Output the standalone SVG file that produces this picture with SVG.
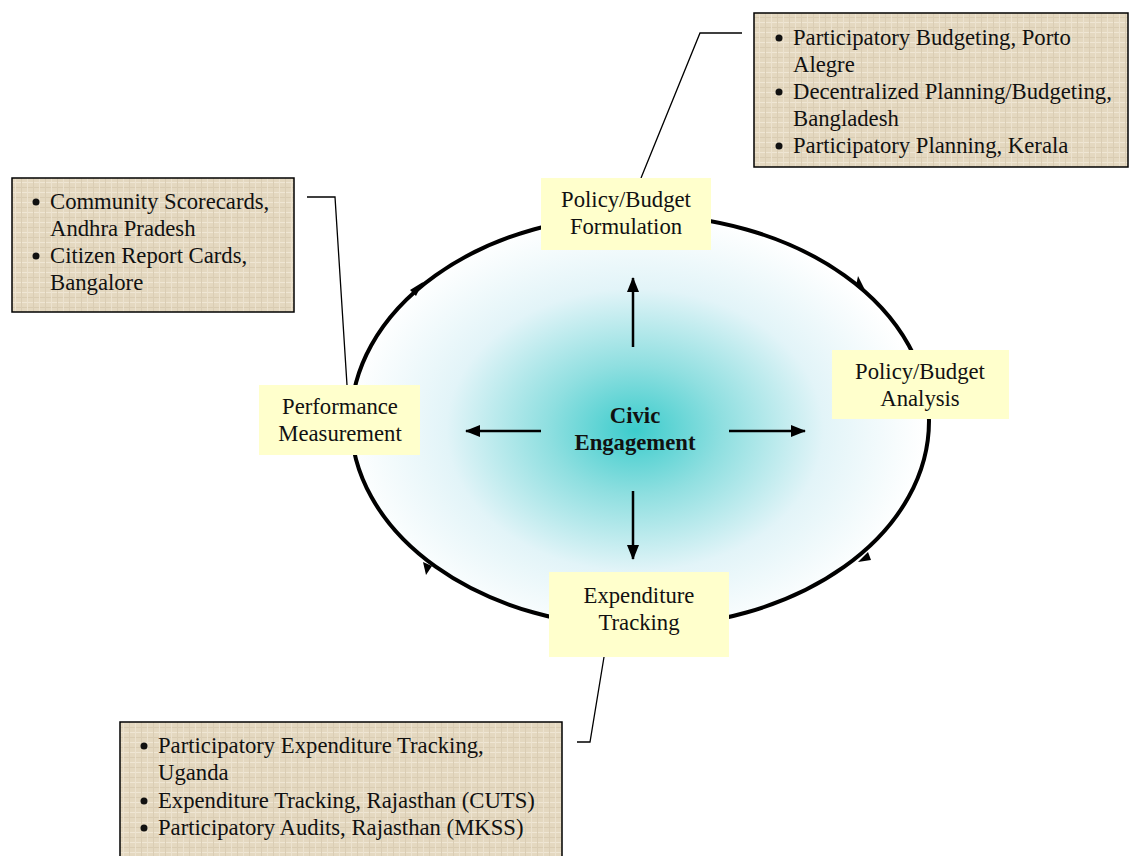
<svg xmlns="http://www.w3.org/2000/svg" width="1129" height="856" viewBox="0 0 1129 856">
  <defs>
    <radialGradient id="civicGlow" cx="635" cy="430" r="290" gradientUnits="userSpaceOnUse" gradientTransform="translate(635 430) scale(1 0.75) translate(-635 -430)">
      <stop offset="0" stop-color="#3ccccc"/>
      <stop offset="0.3" stop-color="#8fdfe0"/>
      <stop offset="0.65" stop-color="#e2f4f8"/>
      <stop offset="1" stop-color="#ffffff"/>
    </radialGradient>
    <!-- woven canvas texture for the example boxes -->
    <pattern id="canvas" width="12" height="10" patternUnits="userSpaceOnUse">
      <rect width="12" height="10" fill="#e4d8c0"/>
      <rect x="0" y="2" width="12" height="1" fill="#efe6d4"/>
      <rect x="0" y="7" width="12" height="1" fill="#d9ccb2"/>
      <rect x="3" y="0" width="1" height="10" fill="#ece2cf"/>
      <rect x="9" y="0" width="1" height="10" fill="#dacdb4"/>
    </pattern>
    <marker id="arrow" markerWidth="16" markerHeight="14" refX="14" refY="7" orient="auto" markerUnits="userSpaceOnUse">
      <path d="M0,1 L15,7 L0,13 Z" fill="#000"/>
    </marker>
  </defs>
  <style>
    .lbl { fill: #ffffcc; }
    .ex { fill: url(#canvas); stroke: #000; stroke-width: 1.5; }
    text { font-family: "Liberation Serif", "Times New Roman", serif; font-size: 22.7px; fill: #111; }
    .c { text-anchor: middle; }
    .b { font-weight: bold; }
    .dot { fill: #111; }
    .conn { stroke: #000; stroke-width: 2.5; fill: none; }
    .callout { stroke: #000; stroke-width: 1.3; fill: none; }
  </style>

  <!-- cycle ring with central glow -->
  <g id="cycle">
    <ellipse cx="640" cy="421" rx="289" ry="206" fill="url(#civicGlow)" stroke="#000" stroke-width="4"/>
    <!-- clockwise direction barbs -->
    <path d="M856,286 L858,276 L866,292 Z" fill="#000"/>
    <path d="M410,290 L423,282 L416,296 Z" fill="#000"/>
    <path d="M423,562 L426,575 L432,566 Z" fill="#000"/>
    <path d="M868,552 L858,562 L871,560 Z" fill="#000"/>
  </g>

  <!-- connectors: radial arrows and callout leaders -->
  <g id="connectors">
    <line class="conn" x1="633" y1="347" x2="633" y2="278" marker-end="url(#arrow)"/>
    <line class="conn" x1="541" y1="431" x2="466" y2="431" marker-end="url(#arrow)"/>
    <line class="conn" x1="729" y1="431" x2="805" y2="431" marker-end="url(#arrow)"/>
    <line class="conn" x1="633" y1="491" x2="633" y2="559" marker-end="url(#arrow)"/>
    <polyline class="callout" points="641,178 700,33 742,33"/>
    <polyline class="callout" points="307,197 335,197 347,385"/>
    <polyline class="callout" points="577,742 590,742 604,657"/>
  </g>

  <g id="civic-engagement">
    <text class="c b" x="635" y="423">Civic</text>
    <text class="c b" x="635" y="450">Engagement</text>
  </g>

  <g id="formulation">
    <rect class="lbl" x="541" y="178" width="170" height="72"/>
    <text class="c" x="626" y="207">Policy/Budget</text>
    <text class="c" x="626" y="234">Formulation</text>
  </g>

  <g id="analysis">
    <rect class="lbl" x="832" y="350" width="177" height="69"/>
    <text class="c" x="920" y="379">Policy/Budget</text>
    <text class="c" x="920" y="406">Analysis</text>
  </g>

  <g id="performance">
    <rect class="lbl" x="259" y="385" width="161" height="70"/>
    <text class="c" x="340" y="414">Performance</text>
    <text class="c" x="340" y="441">Measurement</text>
  </g>

  <g id="expenditure">
    <rect class="lbl" x="549" y="572" width="180" height="85"/>
    <text class="c" x="639" y="603">Expenditure</text>
    <text class="c" x="639" y="630">Tracking</text>
  </g>

  <g id="formulation-examples">
    <rect class="ex" x="754" y="13" width="374" height="154"/>
    <circle class="dot" cx="779" cy="38" r="3.5"/><text x="793" y="45">Participatory Budgeting, Porto</text>
    <text x="793" y="72">Alegre</text>
    <circle class="dot" cx="779" cy="92" r="3.5"/><text x="793" y="99">Decentralized Planning/Budgeting,</text>
    <text x="793" y="126">Bangladesh</text>
    <circle class="dot" cx="779" cy="146" r="3.5"/><text x="793" y="153">Participatory Planning, Kerala</text>
  </g>

  <g id="performance-examples">
    <rect class="ex" x="12" y="178" width="282" height="134"/>
    <circle class="dot" cx="36" cy="202" r="3.5"/><text x="50" y="209">Community Scorecards,</text>
    <text x="50" y="236">Andhra Pradesh</text>
    <circle class="dot" cx="36" cy="256" r="3.5"/><text x="50" y="263">Citizen Report Cards,</text>
    <text x="50" y="290">Bangalore</text>
  </g>

  <g id="expenditure-examples">
    <rect class="ex" x="120" y="722" width="442" height="140"/>
    <circle class="dot" cx="144" cy="746" r="3.5"/><text x="158" y="753">Participatory Expenditure Tracking,</text>
    <text x="158" y="780">Uganda</text>
    <circle class="dot" cx="144" cy="801" r="3.5"/><text x="158" y="808">Expenditure Tracking, Rajasthan (CUTS)</text>
    <circle class="dot" cx="144" cy="828" r="3.5"/><text x="158" y="835">Participatory Audits, Rajasthan (MKSS)</text>
  </g>
</svg>
